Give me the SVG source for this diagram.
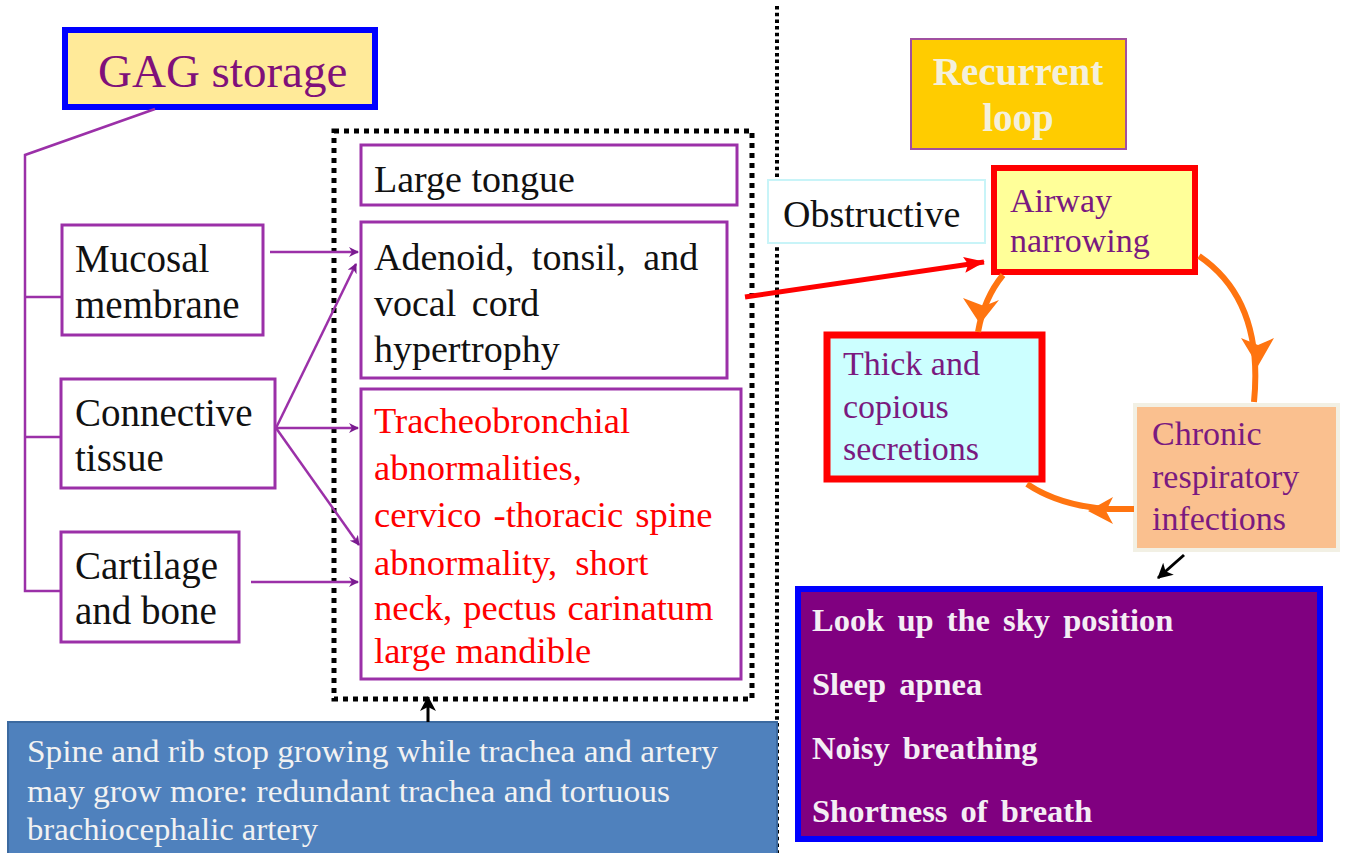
<svg xmlns="http://www.w3.org/2000/svg" width="1346" height="853" viewBox="0 0 1346 853">
<defs>
<style>
.t{font-family:"Liberation Serif","Times New Roman",serif}
.pbox{fill:#fff;stroke:#9b30a8;stroke-width:3}
.blk{fill:#111}
.red{fill:#ff0000}
.pur{fill:#7a1a80}
.pl{stroke:#9b30a8;stroke-width:2.5;fill:none}
.or{stroke:#ff7410;stroke-width:6;fill:none}
.wt{fill:#f4eef4;font-size:32.5px;font-weight:bold;word-spacing:5px}
.bt{fill:#f2f2f2;font-size:31px}
</style>
<marker id="ap" markerWidth="10" markerHeight="10" refX="9" refY="5" orient="auto" markerUnits="userSpaceOnUse">
<path d="M0,0 L10,5 L0,10 L3,5 Z" fill="#7a1a90"/>
</marker>
<marker id="ar" markerWidth="22" markerHeight="18" refX="20" refY="9" orient="auto" markerUnits="userSpaceOnUse">
<path d="M0,1 L21,9 L0,17 L4,9 Z" fill="#ff0000"/>
</marker>
<marker id="ak" markerWidth="16" markerHeight="16" refX="14" refY="8" orient="auto" markerUnits="userSpaceOnUse">
<path d="M0,0 L15,8 L0,16 L4,8 Z" fill="#000"/>
</marker>
</defs>
<rect width="1346" height="853" fill="#fff"/>

<!-- frames / dividers -->
<rect x="334" y="131" width="418" height="568" fill="none" stroke="#000" stroke-width="5" stroke-dasharray="5 5"/>
<line x1="777" y1="6" x2="777" y2="853" stroke="#000" stroke-width="4" stroke-dasharray="3.5 3.2"/>

<g id="gag">
<rect x="65" y="30" width="310" height="77" fill="#ffea99" stroke="#0000ff" stroke-width="6"/>
<text class="t" x="98" y="87" font-size="47" fill="#80107a">GAG storage</text>
</g>

<g id="mucosal">
<rect class="pbox" x="62" y="225" width="201" height="110"/>
<text class="t blk" x="75" y="272" font-size="39">Mucosal</text>
<text class="t blk" x="75" y="318" font-size="39">membrane</text>
</g>
<g id="connective">
<rect class="pbox" x="61" y="379" width="214" height="109"/>
<text class="t blk" x="75" y="426" font-size="39">Connective</text>
<text class="t blk" x="75" y="471" font-size="39">tissue</text>
</g>
<g id="cartilage">
<rect class="pbox" x="61" y="532" width="178" height="110"/>
<text class="t blk" x="75" y="579" font-size="39">Cartilage</text>
<text class="t blk" x="75" y="624" font-size="39">and bone</text>
</g>

<g id="tongue">
<rect class="pbox" x="361" y="145" width="376" height="60"/>
<text class="t blk" x="374" y="192" font-size="38">Large tongue</text>
</g>
<g id="adenoid">
<rect class="pbox" x="361" y="222" width="366" height="156"/>
<text class="t blk" x="374" y="270" font-size="38" word-spacing="8">Adenoid, tonsil, and</text>
<text class="t blk" x="374" y="316" font-size="38" word-spacing="6">vocal cord</text>
<text class="t blk" x="374" y="362" font-size="38">hypertrophy</text>
</g>
<g id="tracheo">
<rect class="pbox" x="361" y="389" width="380" height="290"/>
<text class="t red" x="374" y="433" font-size="36.5">Tracheobronchial</text>
<text class="t red" x="374" y="480" font-size="36.5">abnormalities,</text>
<text class="t red" x="374" y="527" font-size="36.5" word-spacing="3">cervico -thoracic spine</text>
<text class="t red" x="374" y="575" font-size="36.5" xml:space="preserve">abnormality,  short</text>
<text class="t red" x="374" y="620" font-size="36.5" word-spacing="2">neck, pectus carinatum</text>
<text class="t red" x="374" y="663" font-size="36.5">large mandible</text>
</g>

<g id="spine">
<rect x="8" y="722" width="769" height="140" fill="#4f81bd" stroke="#3c6aa0" stroke-width="2"/>
<text class="t bt" x="27" y="762" textLength="691" lengthAdjust="spacingAndGlyphs">Spine and rib stop growing while trachea and artery</text>
<text class="t bt" x="27" y="802" textLength="643" lengthAdjust="spacingAndGlyphs">may grow more: redundant trachea and tortuous</text>
<text class="t bt" x="27" y="840" textLength="291" lengthAdjust="spacingAndGlyphs">brachiocephalic artery</text>
</g>

<g id="recurrent">
<rect x="911" y="39" width="215" height="110" fill="#ffcc00" stroke="#a050a0" stroke-width="2"/>
<text class="t" x="1018" y="85" font-size="39" font-weight="bold" fill="#f4f0dc" text-anchor="middle">Recurrent</text>
<text class="t" x="1018" y="131" font-size="39" font-weight="bold" fill="#f4f0dc" text-anchor="middle">loop</text>
</g>

<g id="obstructive">
<rect x="768" y="180" width="217" height="63" fill="#fff" stroke="#c8f4f8" stroke-width="2"/>
<text class="t blk" x="783" y="227" font-size="38">Obstructive</text>
</g>

<g id="airway">
<rect x="994" y="168" width="201" height="104" fill="#ffff99" stroke="#ff0000" stroke-width="6"/>
<text class="t pur" x="1010" y="212" font-size="34">Airway</text>
<text class="t pur" x="1010" y="252" font-size="34">narrowing</text>
</g>

<g id="thick">
<rect x="827" y="335" width="215" height="144" fill="#ccffff" stroke="#ff0000" stroke-width="7"/>
<text class="t pur" x="843" y="375" font-size="34">Thick and</text>
<text class="t pur" x="843" y="418" font-size="34">copious</text>
<text class="t pur" x="843" y="460" font-size="34">secretions</text>
</g>

<g id="chronic">
<rect x="1135" y="405" width="203" height="145" fill="#fac08f" stroke="#f2f0e4" stroke-width="4"/>
<text class="t pur" x="1152" y="445" font-size="34">Chronic</text>
<text class="t pur" x="1152" y="488" font-size="34">respiratory</text>
<text class="t pur" x="1152" y="530" font-size="34">infections</text>
</g>

<g id="symptoms">
<rect x="798" y="589" width="522" height="250" fill="#800080" stroke="#0000ff" stroke-width="6"/>
<text class="t wt" x="812" y="631">Look up the sky position</text>
<text class="t wt" x="812" y="695">Sleep apnea</text>
<text class="t wt" x="812" y="759">Noisy breathing</text>
<text class="t wt" x="812" y="822">Shortness of breath</text>
</g>

<g id="connectors">
<polyline class="pl" points="155,109 25,155 25,591 61,591"/>
<line class="pl" x1="25" y1="297" x2="62" y2="297"/>
<line class="pl" x1="25" y1="437" x2="61" y2="437"/>
<line class="pl" x1="270" y1="252" x2="358" y2="252" marker-end="url(#ap)"/>
<line class="pl" x1="276" y1="428" x2="356" y2="264" marker-end="url(#ap)"/>
<line class="pl" x1="276" y1="428" x2="358" y2="428" marker-end="url(#ap)"/>
<line class="pl" x1="276" y1="428" x2="359" y2="545" marker-end="url(#ap)"/>
<line class="pl" x1="251" y1="582" x2="358" y2="582" marker-end="url(#ap)"/>
<line x1="745" y1="297" x2="984" y2="262" stroke="#ff0000" stroke-width="5" marker-end="url(#ar)"/>
<line x1="428" y1="722" x2="428" y2="697" stroke="#000" stroke-width="3" marker-end="url(#ak)"/>
<line x1="1184" y1="555" x2="1158" y2="578" stroke="#000" stroke-width="3" marker-end="url(#ak)"/>
<path class="or" d="M1003,275 Q984,298 978,332"/>
<path d="M980,324 L963,298 L984,306 L999,300 Z" fill="#ff7410"/>
<path class="or" d="M1199,256 Q1264,300 1254,402"/>
<path d="M1258,366 L1241,338 L1258,345 L1274,338 Z" fill="#ff7410"/>
<path class="or" d="M1134,509 L1108,509 Q1060,506 1027,484"/>
<path d="M1088,511 L1113,497 L1106,511 L1113,524 Z" fill="#ff7410"/>
</g>
</svg>
